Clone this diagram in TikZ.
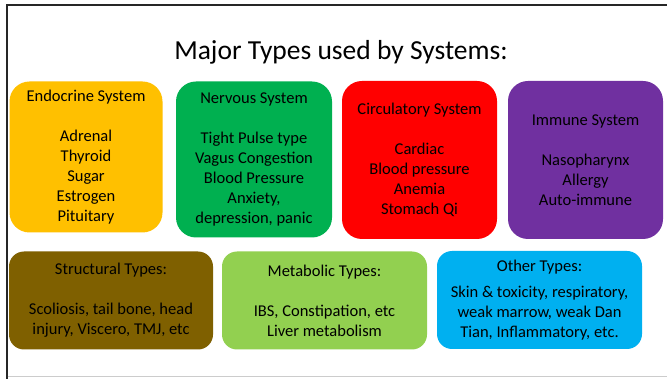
\documentclass[tikz,border=0pt]{standalone}
\usepackage{fontspec}
\setmainfont{Carlito}
\definecolor{endoC}{HTML}{FFC000}
\definecolor{nervC}{HTML}{00B050}
\definecolor{circC}{HTML}{FF0000}
\definecolor{immuC}{HTML}{7030A0}
\definecolor{strucC}{HTML}{7F6000}
\definecolor{metaC}{HTML}{92D050}
\definecolor{otherC}{HTML}{00B0F0}
\begin{document}
\begin{tikzpicture}[x=1pt,y=-1pt,
  bigbox/.style={rectangle, rounded corners=20pt, align=center, inner sep=0pt, text=black,
    font=\fontsize{16.5}{20}\selectfont},
  smallbox/.style={rectangle, rounded corners=15pt, align=center, inner sep=0pt, text=black,
    font=\fontsize{16.5}{20}\selectfont}]
\useasboundingbox (0,0) rectangle (667,379);
\fill[white] (0,0) rectangle (667,379);
% frame
\draw[black!85, line width=2pt] (6.5,379) -- (6.5,5) -- (667,5);
\draw[black!20, line width=1pt] (7.5,377) -- (667,377);
% title
\node[font=\fontsize{27.5}{32}\selectfont, anchor=base, inner sep=0pt] (title) at (341,60) {Major Types used by Systems:};
% top row
\node[bigbox, fill=endoC, minimum width=153pt, minimum height=151pt] (endo) at (86,157)
  {Endocrine System\\[20pt]Adrenal\\Thyroid\\Sugar\\Estrogen\\Pituitary};
\node[bigbox, fill=nervC, minimum width=156pt, minimum height=156pt] (nerv) at (254,159.5)
  {Nervous System\\[20pt]Tight Pulse type\\Vagus Congestion\\Blood Pressure\\Anxiety,\\depression, panic};
\node[bigbox, fill=circC, minimum width=155pt, minimum height=158pt] (circ) at (419.5,160)
  {Circulatory System\\[20pt]Cardiac\\Blood pressure\\Anemia\\Stomach Qi};
\node[bigbox, fill=immuC, minimum width=155pt, minimum height=158pt] (immu) at (585.5,160)
  {Immune System\\[20pt]Nasopharynx\\Allergy\\Auto-immune};
% bottom row
\node[smallbox, fill=strucC, minimum width=204pt, minimum height=98pt] (struc) at (111,300.5)
  {Structural Types:\\[20pt]Scoliosis, tail bone, head\\injury, Viscero, TMJ, etc};
\node[smallbox, fill=metaC, minimum width=205pt, minimum height=98pt] (meta) at (324.5,300.5)
  {Metabolic Types:\\[20pt]IBS, Constipation, etc\\Liver metabolism};
\node[smallbox, fill=otherC, minimum width=205pt, minimum height=98pt] (other) at (539.5,300)
  {Other Types:\\[6pt]Skin \& toxicity, respiratory,\\weak marrow, weak Dan\\Tian, Inflammatory, etc.};
\end{tikzpicture}
\end{document}
